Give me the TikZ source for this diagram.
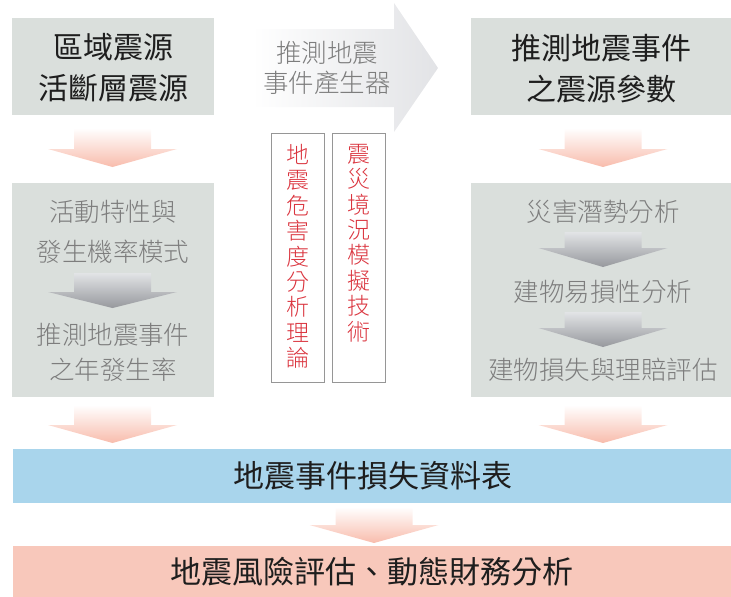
\documentclass[tikz,border=0pt]{standalone}
\usepackage{fontspec}
\setmainfont{Noto Sans CJK TC}
\newfontfamily\lightcjk{Noto Sans CJK TC}[UprightFont={* Light}]
\usetikzlibrary{calc}
\definecolor{boxgray}{RGB}{218,223,220}
\definecolor{barblue}{RGB}{169,213,236}
\definecolor{barpink}{RGB}{248,200,187}
\definecolor{arrpink}{RGB}{248,188,172}
\definecolor{arrgraytop}{RGB}{226,228,230}
\definecolor{arrgraybot}{RGB}{150,152,157}
\definecolor{bigarr}{RGB}{226,227,230}
\definecolor{txtred}{RGB}{218,52,62}
\definecolor{txtgray}{RGB}{125,125,125}
\definecolor{txtdark}{RGB}{30,30,30}
\definecolor{vborder}{RGB}{150,150,150}
% down arrow: #1 cx, #2 top, #3 head base, #4 tip, #5 style
\newcommand{\dnarrow}[5]{%
  \path[#5] ({#1-38.5},#2) -- ({#1+38.5},#2) -- ({#1+38.5},#3) -- ({#1+64.5},#3)
    -- (#1,#4) -- ({#1-64.5},#3) -- ({#1-38.5},#3) -- cycle;}
\begin{document}
\begin{tikzpicture}[x=1pt,y=-1pt,
  title/.style={text=txtdark,font=\fontsize{30}{41}\selectfont,align=center,inner sep=0pt},
  graytxt/.style={text=txtgray,font=\lightcjk\fontsize{25.5}{30}\selectfont,inner sep=0pt},
  bartxt/.style={text=txtdark,font=\fontsize{31}{36}\selectfont,inner sep=0pt},
  vtxt/.style={text=txtred,font=\lightcjk\fontsize{23}{25.4}\selectfont,align=center,inner sep=0pt,anchor=north},
  pinkarr/.style={top color=white,bottom color=arrpink},
  grayarr/.style={top color=arrgraytop,bottom color=arrgraybot},
  vbox/.style={draw=vborder,line width=0.8pt}]
\useasboundingbox (0,0) rectangle (731,597);

% boxes
\fill[boxgray] (12,18) rectangle (214,115);
\fill[boxgray] (471,18) rectangle (731,115);
\fill[boxgray] (12,183) rectangle (214,397);
\fill[boxgray] (471,183) rectangle (731,397);
\fill[barblue] (13,449) rectangle (731,503);
\fill[barpink] (13,546) rectangle (731,597);

% big gray arrow
\path[left color=white,right color=bigarr] (252,29) -- (394,29) -- (394,3) -- (438,68) -- (394,132) -- (394,107) -- (252,107) -- cycle;

% pink arrows
\dnarrow{112.5}{128}{149}{167}{pinkarr}
\dnarrow{603}{128}{149}{167}{pinkarr}
\dnarrow{112.5}{405}{425}{443}{pinkarr}
\dnarrow{603}{405}{425}{443}{pinkarr}
\dnarrow{374}{507}{525}{543}{pinkarr}

% gray arrows inside boxes
\dnarrow{112.5}{273}{292}{308}{grayarr}
\dnarrow{603}{232}{248}{267}{grayarr}
\dnarrow{603}{312}{328}{347}{grayarr}

% titles
\node[title] (t1) at (113,67.5) {區域震源\\活斷層震源};
\node[title] (t2) at (601,69) {推測地震事件\\之震源參數};

% big arrow text
\node[graytxt] (g1) at (327,53) {推測地震};
\node[graytxt] (g2) at (327,83) {事件產生器};

% left column text
\node[graytxt] (l1) at (113,212) {活動特性與};
\node[graytxt] (l2) at (113,252) {發生機率模式};
\node[graytxt] (l3) at (113,335) {推測地震事件};
\node[graytxt] (l4) at (113,370) {之年發生率};

% right column text
\node[graytxt] (r1) at (603,212) {災害潛勢分析};
\node[graytxt] (r2) at (603,292) {建物易損性分析};
\node[graytxt] (r3) at (603,370) {建物損失與理賠評估};

% bars
\node[bartxt] (b1) at (373,476) {地震事件損失資料表};
\node[bartxt] (b2) at (372,572) {地震風險評估、動態財務分析};

% vertical boxes
\draw[vbox] (271,133) rectangle (324,382);
\draw[vbox] (332,133) rectangle (385,382);
\node[vtxt] (v1) at (297.5,144) {地\\震\\危\\害\\度\\分\\析\\理\\論};
\node[vtxt] (v2) at (358.5,144) {震\\災\\境\\況\\模\\擬\\技\\術};
\end{tikzpicture}
\end{document}
